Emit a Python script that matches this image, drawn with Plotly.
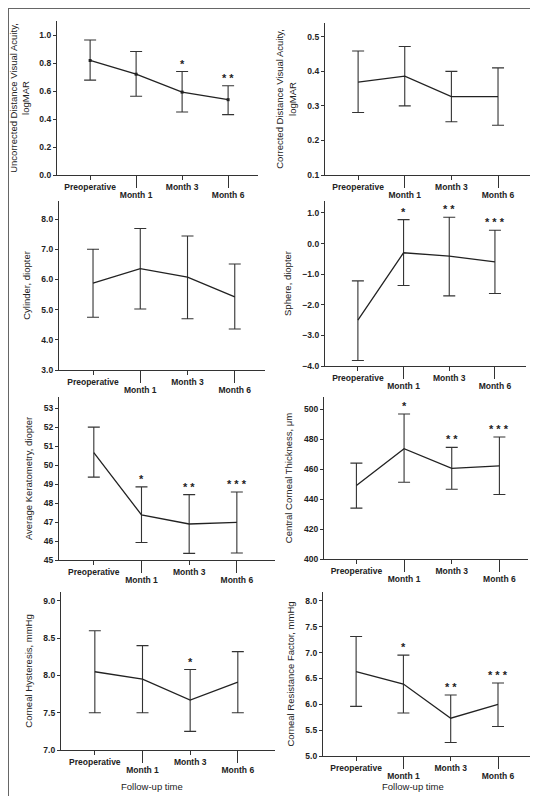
import plotly.graph_objects as go

# ---------------- data ----------------
timepoints = ["Preoperative", "Month 1", "Month 3", "Month 6"]

udva_mean = [0.818, 0.720, 0.592, 0.538]
udva_upper = [0.964, 0.882, 0.739, 0.637]
udva_lower = [0.678, 0.562, 0.450, 0.431]
udva_stars = ["", "", "*", "* *"]

cdva_mean = [0.369, 0.386, 0.327, 0.327]
cdva_upper = [0.459, 0.472, 0.400, 0.410]
cdva_lower = [0.281, 0.300, 0.254, 0.244]
cdva_stars = ["", "", "", ""]

cyl_mean = [5.88, 6.36, 6.08, 5.42]
cyl_upper = [7.00, 7.69, 7.44, 6.51]
cyl_lower = [4.75, 5.02, 4.70, 4.36]
cyl_stars = ["", "", "", ""]

sph_mean = [-2.50, -0.30, -0.41, -0.60]
sph_upper = [-1.22, 0.78, 0.86, 0.435]
sph_lower = [-3.82, -1.37, -1.71, -1.63]
sph_stars = ["", "*", "* *", "* * *"]

k_mean = [50.67, 47.38, 46.90, 46.99]
k_upper = [52.01, 48.86, 48.45, 48.59]
k_lower = [49.37, 45.92, 45.35, 45.37]
k_stars = ["", "*", "* *", "* * *"]

cct_mean = [449.0, 473.5, 460.4, 462.1]
cct_upper = [463.9, 496.7, 474.4, 481.3]
cct_lower = [433.9, 451.2, 446.5, 443.0]
cct_stars = ["", "*", "* *", "* * *"]

ch_mean = [8.05, 7.95, 7.67, 7.91]
ch_upper = [8.60, 8.40, 8.08, 8.32]
ch_lower = [7.50, 7.50, 7.25, 7.50]
ch_stars = ["", "", "*", ""]

crf_mean = [6.63, 6.39, 5.73, 6.00]
crf_upper = [7.31, 6.95, 6.18, 6.41]
crf_lower = [5.96, 5.83, 5.26, 5.57]
crf_stars = ["", "*", "* *", "* * *"]

titles = [
    "Uncorrected Distance Visual Acuity,<br>logMAR",
    "Corrected Distance Visual Acuity,<br>logMAR",
    "Cylinder, diopter",
    "Sphere, diopter",
    "Average Keratometry, diopter",
    "Central Corneal Thickness, μm",
    "Corneal Hysteresis, mmHg",
    "Corneal Resistance Factor, mmHg",
]
xlabel = "Follow-up time"

series = [
    (udva_mean, udva_upper, udva_lower, udva_stars),
    (cdva_mean, cdva_upper, cdva_lower, cdva_stars),
    (cyl_mean, cyl_upper, cyl_lower, cyl_stars),
    (sph_mean, sph_upper, sph_lower, sph_stars),
    (k_mean, k_upper, k_lower, k_stars),
    (cct_mean, cct_upper, cct_lower, cct_stars),
    (ch_mean, ch_upper, ch_lower, ch_stars),
    (crf_mean, crf_upper, crf_lower, crf_stars),
]

# ---------------- layout geometry (pixels) ----------------
W, H = 538, 796
# left, right, top, bottom, xrange, yrange, dtick, tickformat
geom = [
    (49, 250, 13, 167, [-0.72, 3.65], [0, 1.1], 0.2, ".1f"),
    (317, 525, 15, 167, [-0.71, 3.75], [0.1, 0.54], 0.1, ".1f"),
    (51, 257, 193, 362, [-0.72, 3.64], [3, 8.6], 1.0, ".1f"),
    (317, 518, 193, 358, [-0.72, 3.68], [-4, 1.39], 1.0, ".1f"),
    (51, 267, 389, 552, [-0.73, 3.8], [45, 53.6], 1, "d"),
    (316, 520, 389, 551, [-0.68, 3.6], [400, 508], 20, "d"),
    (53, 267, 584, 742, [-0.71, 3.78], [7, 9.12], 0.5, ".1f"),
    (315, 525, 584, 748, [-0.70, 3.74], [5, 8.17], 0.5, ".1f"),
]

FONT = "Liberation Sans, Arial, sans-serif"
INK = "#222222"
tickfont = dict(family=FONT, size=8.5, color=INK, weight="bold")

fig = go.Figure()
layout = {}
annotations = []
xs = list(range(len(timepoints)))

for i, ((mean, upper, lower, stars), (l, r, t, b, xr, yr, dt, fmt), title) in enumerate(
        zip(series, geom, titles), start=1):
    xa = "x" if i == 1 else f"x{i}"
    ya = "y" if i == 1 else f"y{i}"
    xa2 = f"x{8 + i}"
    plus = [u - m for u, m in zip(upper, mean)]
    minus = [m - lo for m, lo in zip(mean, lower)]
    fig.add_trace(go.Scatter(
        x=xs, y=mean, xaxis=xa, yaxis=ya,
        mode="lines+markers" if i == 1 else "lines",
        line=dict(color=INK, width=1.3),
        marker=dict(symbol="square", size=3, color=INK),
        error_y=dict(type="data", symmetric=False, array=plus, arrayminus=minus,
                     width=6, thickness=1.1, color="#333333"),
        showlegend=False, hoverinfo="skip",
    ))
    fig.add_trace(go.Scatter(x=[None], y=[None], xaxis=xa2, yaxis=ya,
                             showlegend=False, hoverinfo="skip"))

    xdom = [l / W, r / W]
    ydom = [1 - b / H, 1 - t / H]
    xkey = "xaxis" if i == 1 else f"xaxis{i}"
    ykey = "yaxis" if i == 1 else f"yaxis{i}"
    layout[xkey] = dict(
        domain=xdom, anchor=ya, range=xr,
        tickvals=[xs[0], xs[2]], ticktext=[timepoints[0], timepoints[2]],
        ticks="outside", ticklen=4, tickwidth=1.1, tickcolor="#333",
        showline=True, linecolor="#333", linewidth=1.2,
        showgrid=False, zeroline=False, tickfont=tickfont, automargin=False,
    )
    layout[f"xaxis{8 + i}"] = dict(
        overlaying=xa, anchor=ya, range=xr,
        tickvals=[xs[1], xs[3]], ticktext=[timepoints[1], timepoints[3]],
        ticks="outside", ticklen=12, tickwidth=1.1, tickcolor="#333",
        showline=False, showgrid=False, zeroline=False,
        tickfont=tickfont, automargin=False,
    )
    layout[ykey] = dict(
        domain=ydom, anchor=xa, range=yr, dtick=dt, tick0=0, tickformat=fmt,
        ticks="outside", ticklen=3, tickwidth=1.1, tickcolor="#333",
        showline=True, linecolor="#333", linewidth=1.2,
        showgrid=False, zeroline=False, tickfont=tickfont, automargin=False,
        title=dict(text=title, font=dict(family=FONT, size=9.5, color=INK), standoff=9),
    )
    for x, u, s in zip(xs, upper, stars):
        if s:
            annotations.append(dict(
                x=x, y=u, xref=xa, yref=ya, text=s, showarrow=False,
                yanchor="bottom", yshift=0,
                font=dict(family=FONT, size=11, color=INK, weight="bold"),
            ))
    if i in (7, 8):
        annotations.append(dict(
            x=1.2, y=1 - 778 / H, xref=xa, yref="paper", text=xlabel,
            showarrow=False, xanchor="center", yanchor="middle",
            font=dict(family=FONT, size=9.5, color=INK),
        ))

fig.update_layout(
    width=W, height=H,
    margin=dict(l=0, r=0, t=0, b=0),
    paper_bgcolor="white", plot_bgcolor="rgba(0,0,0,0)",
    annotations=annotations,
    shapes=[dict(type="rect", xref="paper", yref="paper", x0=0, x1=1, y0=0, y1=1,
                 line=dict(color="#666", width=2))],
    **layout,
)

fig.write_html("out.html")
